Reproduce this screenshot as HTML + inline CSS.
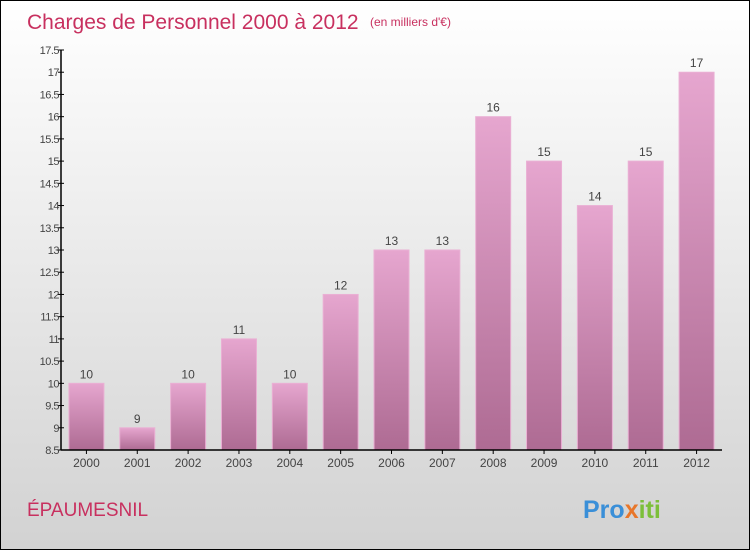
<!DOCTYPE html>
<html><head><meta charset="utf-8"><style>
body{margin:0}
#c{width:748px;height:548px;border:1px solid #000;background:linear-gradient(#ffffff,#d2d2d2);position:relative;font-family:"Liberation Sans",sans-serif}
</style></head><body>
<div id="c">
<svg width="748" height="548">
<defs><linearGradient id="g" x1="0" y1="0" x2="0" y2="1"><stop offset="0" stop-color="#e6a6cf"/><stop offset="1" stop-color="#ae6b93"/></linearGradient></defs>
<text x="26" y="28" font-size="21" fill="#c8305f">Charges de Personnel 2000 à 2012</text>
<text x="369" y="25" font-size="12" fill="#c8305f">(en milliers d'€)</text>
<text x="26" y="515" font-size="19" fill="#c8305f">ÉPAUMESNIL</text>
<text x="582" y="517" font-size="25" font-weight="bold"><tspan fill="#3a8fd8">Pro</tspan><tspan fill="#e8762a">x</tspan><tspan fill="#7cbf3a">iti</tspan></text>
<g id="plot"></g>
</svg></div>
<script>
const categories=["2000","2001","2002","2003","2004","2005","2006","2007","2008","2009","2010","2011","2012"];
const values=[10,9,10,11,10,12,13,13,16,15,14,15,17];
const yTicks=[8.5,9,9.5,10,10.5,11,11.5,12,12.5,13,13.5,14,14.5,15,15.5,16,16.5,17,17.5];
const ns="http://www.w3.org/2000/svg";
const g=document.getElementById('plot');
const L=60,R=721,T=49,B=449,ymin=8.5,ymax=17.5;
const y=v=>B-(v-ymin)/(ymax-ymin)*(B-T);
const band=(R-L)/categories.length;
const x=i=>L+band*(i+0.5);
function mk(t,a){const e=document.createElementNS(ns,t);for(const k in a)e.setAttribute(k,a[k]);g.appendChild(e);return e;}
values.forEach((v,i)=>{
 const r=mk('rect',{x:x(i)-17.5,y:y(v),width:35,height:B-y(v),fill:'url(#g)',stroke:'#eab0d4','stroke-width':1});
 
 
 const t=mk('text',{x:x(i),y:y(v)-5,'text-anchor':'middle','font-size':12,fill:'#444'});
 t.textContent=v;
 
 
 const c=mk('text',{x:x(i),y:B+17,'text-anchor':'middle','font-size':12,fill:'#444'});
 c.textContent=categories[i];
 
 
 const tk=mk('line',{x1:x(i),x2:x(i),y1:B,y2:B+4,stroke:'#000'});
 
 
});
yTicks.forEach(v=>{
 const tk=mk('line',{x1:L-3,x2:L+3,y1:y(v),y2:y(v),stroke:'#000'});
 
 
 const t=mk('text',{x:L-2,y:y(v)+4,'text-anchor':'end','font-size':11,fill:'#444','letter-spacing':'-0.5'});
 t.textContent=v;
 
 
});
const ya=mk('line',{x1:L,x2:L,y1:T,y2:B,stroke:'#000','stroke-width':1.5});


const xa=mk('line',{x1:L,x2:R,y1:B,y2:B,stroke:'#000','stroke-width':1.5});


</script>
</body></html>
